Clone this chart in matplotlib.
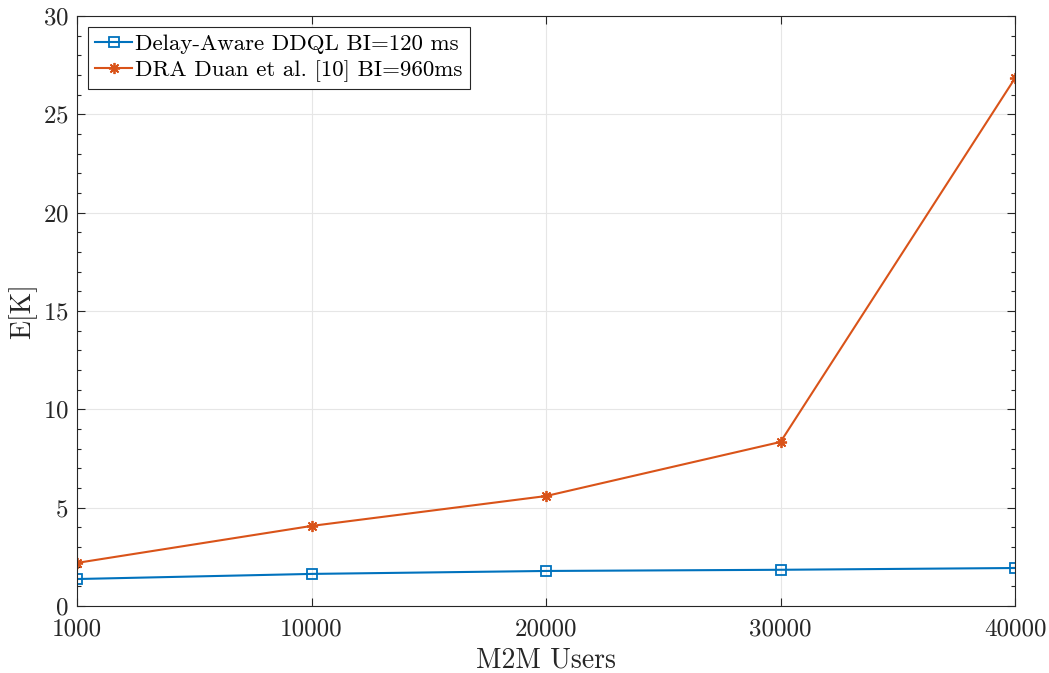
import matplotlib
matplotlib.use("Agg")
import matplotlib.pyplot as plt
from matplotlib.ticker import MultipleLocator

plt.rcParams['font.family'] = 'serif'
plt.rcParams['font.serif'] = ['cmr10', 'DejaVu Serif']
plt.rcParams['mathtext.fontset'] = 'cm'
plt.rcParams['axes.formatter.use_mathtext'] = True

categories = ['1000', '10000', '20000', '30000', '40000']
ddql = [1.37, 1.63, 1.78, 1.84, 1.93]
dra = [2.19, 4.07, 5.59, 8.34, 26.84]
labels = ['Delay-Aware DDQL BI=120 ms', 'DRA Duan et al. [10] BI=960ms']

fig = plt.figure(figsize=(10.49, 6.73), dpi=100)
ax = fig.add_axes([0.0734, 0.0996, 0.8942, 0.8766])

x = list(range(len(categories)))
ax.plot(x, ddql, color='#0072BD', lw=1.5, marker='s', ms=7, mfc='none', mew=1.3, label=labels[0])
ax.plot(x, dra, color='#D95319', lw=1.5, marker=(8, 2, 0), ms=8, mew=1.3, label=labels[1])

ax.set_xlim(0, 4)
ax.set_ylim(0, 30)
ax.set_xticks(x)
ax.set_xticklabels(categories)
ax.yaxis.set_major_locator(MultipleLocator(5))
ax.yaxis.set_minor_locator(MultipleLocator(1))
ax.tick_params(axis='both', which='both', direction='in', top=True, right=True, colors='#262626', labelcolor='#262626', labelsize=18)
ax.tick_params(which='major', length=6, width=0.8)
ax.tick_params(which='minor', length=3, width=0.8)
ax.tick_params(axis='x', which='major', pad=9)
ax.tick_params(axis='y', which='major', pad=6)
for s in ax.spines.values():
    s.set_color('#262626')
    s.set_linewidth(0.8)
ax.grid(True, which='major', color='#e6e6e6', lw=0.8)
ax.set_axisbelow(True)
ax.set_xlabel('M2M Users', fontsize=20, color='#262626', labelpad=5)
ax.set_ylabel('E[K]', fontsize=20, color='#262626', labelpad=4)

leg = ax.legend(loc='upper left', fontsize=16.5, frameon=True, fancybox=False, edgecolor='#262626',
                framealpha=1, handlelength=1.6, handletextpad=0.15, borderpad=0.3,
                labelspacing=0.25, borderaxespad=0.5)
leg.get_frame().set_linewidth(0.8)

fig.savefig('out.png', dpi=100)
